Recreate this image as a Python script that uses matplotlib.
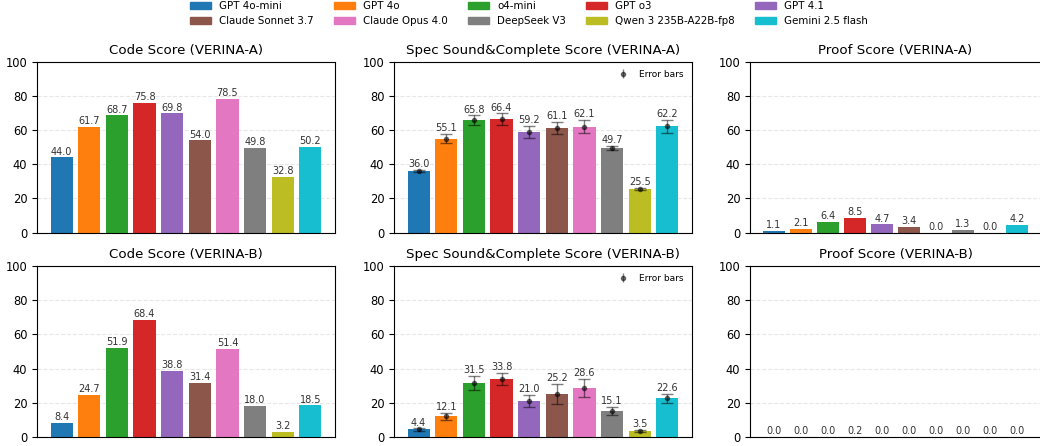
import matplotlib
matplotlib.use("Agg")
import matplotlib.pyplot as plt
from matplotlib.patches import Patch
import numpy as np

models = ['GPT 4o-mini', 'GPT 4o', 'o4-mini', 'GPT o3', 'GPT 4.1',
          'Claude Sonnet 3.7', 'Claude Opus 4.0', 'DeepSeek V3',
          'Qwen 3 235B-A22B-fp8', 'Gemini 2.5 flash']
code_a = [44.0, 61.7, 68.7, 75.8, 69.8, 54.0, 78.5, 49.8, 32.8, 50.2]
spec_a = [36.0, 55.1, 65.8, 66.4, 59.2, 61.1, 62.1, 49.7, 25.5, 62.2]
spec_a_err = [0.5, 2.9, 2.9, 3.4, 3.5, 3.6, 3.9, 1.1, 0.5, 3.8]
proof_a = [1.1, 2.1, 6.4, 8.5, 4.7, 3.4, 0.0, 1.3, 0.0, 4.2]
code_b = [8.4, 24.7, 51.9, 68.4, 38.8, 31.4, 51.4, 18.0, 3.2, 18.5]
spec_b = [4.4, 12.1, 31.5, 33.8, 21.0, 25.2, 28.6, 15.1, 3.5, 22.6]
spec_b_err = [0.6, 2.1, 4.1, 3.6, 3.4, 6.0, 5.3, 2.5, 0.5, 2.6]
proof_b = [0.0, 0.0, 0.0, 0.2, 0.0, 0.0, 0.0, 0.0, 0.0, 0.0]

titles = [['Code Score (VERINA-A)', 'Spec Sound&Complete Score (VERINA-A)', 'Proof Score (VERINA-A)'],
          ['Code Score (VERINA-B)', 'Spec Sound&Complete Score (VERINA-B)', 'Proof Score (VERINA-B)']]
data = [[(code_a, None), (spec_a, spec_a_err), (proof_a, None)],
        [(code_b, None), (spec_b, spec_b_err), (proof_b, None)]]

colors = plt.get_cmap('tab10').colors[:10]

W, H = 1040, 446
fig = plt.figure(figsize=(W / 100, H / 100), dpi=100)

col_px = [(37, 298), (394, 298), (750, 291)]
row_px = [(62, 170.5), (266, 171)]

x = np.arange(len(models))
for r in range(2):
    for c in range(3):
        l, w = col_px[c]
        t, h = row_px[r]
        ax = fig.add_axes([l / W, 1 - (t + h) / H, w / W, h / H])
        vals, err = data[r][c]
        ax.bar(x, vals, width=0.8, color=colors)
        tops = list(vals)
        if err is not None:
            ax.errorbar(x, vals, yerr=err, fmt='o', color='black', alpha=0.5,
                        markersize=3, capsize=4, elinewidth=1, capthick=1)
            leg_h = ax.errorbar([], [], yerr=[], fmt='o', color='black',
                                alpha=0.5, markersize=3, capsize=0,
                                elinewidth=1, label='Error bars')
            tops = [v + e for v, e in zip(vals, err)]
            ax.legend(handles=[leg_h], loc='upper right', frameon=False,
                      fontsize=6.5, handletextpad=0.8)
        for xi, v, tp in zip(x, vals, tops):
            ax.text(xi, tp + 0.5, f'{v:.1f}', ha='center', va='bottom',
                    fontsize=7, color='#333333')
        ax.set_ylim(0, 100)
        ax.set_xlim(-0.89, 9.89)
        ax.set_yticks([0, 20, 40, 60, 80, 100])
        ax.set_xticks([])
        ax.tick_params(axis='y', labelsize=8.3)
        ax.grid(axis='y', linestyle='--', alpha=0.3)
        ax.set_axisbelow(True)
        ax.set_title(titles[r][c], fontsize=9.6)

ncol = 5
nrow = 2
order = [row * ncol + col for col in range(ncol) for row in range(nrow)]
handles = [Patch(color=colors[i], label=models[i]) for i in order]
fig.legend(handles=handles, loc='upper center', bbox_to_anchor=(0.5087, 1.018),
           ncol=ncol, frameon=False, fontsize=7.4, labelspacing=0.5)

fig.savefig('out.png', dpi=100)
